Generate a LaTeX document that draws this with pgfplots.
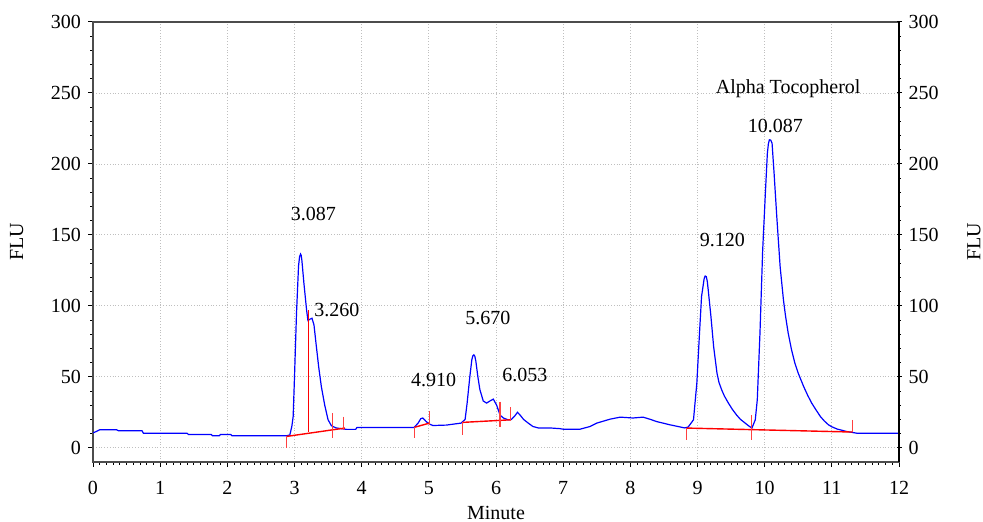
\documentclass[border=0pt]{standalone}
\usepackage{fontspec}
\setmainfont{Liberation Serif}
\usepackage{pgfplots}
\pgfplotsset{compat=1.18}
\definecolor{trace}{RGB}{0,0,255}
\definecolor{integ}{RGB}{255,0,0}
\begin{document}
\begin{tikzpicture}
\useasboundingbox (-46.5pt,-30pt) rectangle (445pt,231pt);
\pgfplotsset{
  chrom/.style={
    width=403pt, height=220pt, scale only axis,
    xmin=0, xmax=12, ymin=-10, ymax=300,
    xtick={0,1,...,12}, ytick={0,50,...,300},
    minor x tick num=9, minor y tick num=4,
    major tick length=2.5pt, minor tick length=1.5pt,
    tick style={black, line width=0.5pt},
    ticklabel style={font=\fontsize{10}{12}\selectfont},
    /pgf/number format/assume math mode=true,
    label style={font=\fontsize{10}{12}\selectfont},
  },
}
\begin{axis}[chrom,
    axis line style={black!70, line width=0.6pt},
    xtick pos=bottom, ytick pos=left, tick align=outside,
    xticklabel style={yshift=-3.5pt},
    grid=major, grid style={densely dotted, black!25, line width=0.4pt},
    xlabel={Minute}, ylabel={FLU},
    xlabel style={yshift=1pt},
    ylabel style={yshift=7pt},
]
% detector trace
\addplot[trace, line width=0.6pt] coordinates {
(0,10.5) (0.05,11.5) (0.1,12.7) (0.35,12.7) (0.38,12) (0.73,12) (0.75,10.3)
(1.4,10.3) (1.42,9.4) (1.76,9.4) (1.78,8.5) (1.88,8.5) (1.9,9.4) (2.05,9.4)
(2.07,8.5) (2.88,8.5) (2.93,9) (2.96,15) (2.98,22) (3.0,50) (3.03,95)
(3.06,128) (3.075,134.5) (3.09,136.5) (3.10,135.5) (3.11,132) (3.14,116)
(3.18,97) (3.20,89.7) (3.23,90.6) (3.26,91.3) (3.29,86.6) (3.32,73.7)
(3.36,57) (3.40,43) (3.45,30) (3.50,19.7) (3.55,15.5) (3.62,14) (3.77,13)
(3.91,13) (3.93,14.3) (4.78,14.3) (4.84,17.4) (4.88,20.5) (4.91,21)
(4.96,18.5) (5.01,16.7) (5.06,15.7) (5.26,16) (5.48,17.4) (5.54,20)
(5.57,31.5) (5.61,50) (5.64,62) (5.655,64.8) (5.67,65.5) (5.685,64.5)
(5.70,61) (5.73,50) (5.76,41) (5.81,33) (5.86,31.5) (5.91,33) (5.96,34.3)
(6.01,30) (6.06,23) (6.11,21) (6.18,19.7) (6.23,20) (6.28,22.5) (6.32,25)
(6.36,23) (6.41,20) (6.48,17.4) (6.55,15) (6.63,14) (6.8,14) (6.95,13.5)
(7.0,13.1) (7.25,13.1) (7.4,15) (7.5,17.4) (7.7,20.2) (7.85,21.6) (8.04,21)
(8.19,21.6) (8.3,20) (8.39,18.5) (8.59,16.2) (8.81,14) (8.86,14.6)
(8.94,19.7) (8.99,45.5) (9.03,81) (9.06,106.5) (9.10,119.5) (9.115,121)
(9.13,120.6) (9.145,117.5) (9.16,111) (9.20,92.5) (9.24,71.3) (9.29,52.6)
(9.32,46) (9.36,40.8) (9.40,36.5) (9.46,31.5) (9.52,27) (9.58,23.2)
(9.64,20) (9.71,17.4) (9.76,15.5) (9.81,13.9) (9.86,19.7) (9.89,33.8)
(9.93,80.8) (9.97,139) (10.01,179) (10.04,207.5) (10.055,214) (10.07,217)
(10.09,216.8) (10.11,214.6) (10.14,193.5) (10.18,163) (10.23,127.7)
(10.28,104) (10.31,93) (10.35,80.8) (10.40,69) (10.45,59.6) (10.50,52.5)
(10.58,43.2) (10.64,37) (10.70,31.5) (10.76,27) (10.83,22) (10.89,18.8)
(10.95,16.2) (11.0,14.8) (11.08,13.2) (11.22,11.5) (11.37,10.3) (12,10.3)
};
% integration baselines and marks
\addplot[integ, line width=0.7pt] coordinates {(2.88,8) (3.75,13.9)};
\addplot[integ, line width=0.7pt] coordinates {(3.21,10.8) (3.21,97)};
\addplot[integ!75, line width=0.6pt] coordinates {(2.88,8) (2.88,-0.2)};
\addplot[integ!75, line width=0.6pt] coordinates {(3.57,24.4) (3.57,6.8)};
\addplot[integ!75, line width=0.6pt] coordinates {(3.73,22) (3.73,12.7)};
\addplot[integ, line width=0.7pt] coordinates {(4.79,14.5) (5.01,17.4)};
\addplot[integ!75, line width=0.6pt] coordinates {(4.79,14.5) (4.79,6.8)};
\addplot[integ!75, line width=0.6pt] coordinates {(5.01,25.6) (5.01,16.2)};
\addplot[integ, line width=0.7pt] coordinates {(5.50,17.9) (6.21,19.7)};
\addplot[integ!75, line width=0.6pt] coordinates {(5.50,17.9) (5.50,9.2)};
\addplot[integ!75, line width=0.6pt] coordinates {(6.06,32.6) (6.06,15)};
\addplot[integ!75, line width=0.6pt] coordinates {(6.21,28.6) (6.21,19.2)};
\addplot[integ, line width=0.7pt] coordinates {(8.84,13.9) (11.31,11.1)};
\addplot[integ!75, line width=0.6pt] coordinates {(8.84,13.9) (8.84,5.6)};
\addplot[integ!75, line width=0.6pt] coordinates {(9.80,23.2) (9.80,5.6)};
\addplot[integ!75, line width=0.6pt] coordinates {(11.31,19.7) (11.31,11.1)};
% peak labels
\begin{scope}[every node/.style={font=\fontsize{10}{12}\selectfont, inner sep=0pt}]
\node at (axis cs:3.28,165) {3.087};
\node at (axis cs:3.63,97) {3.260};
\node at (axis cs:5.07,48) {4.910};
\node at (axis cs:5.88,91.5) {5.670};
\node at (axis cs:6.43,51) {6.053};
\node at (axis cs:9.37,146.5) {9.120};
\node at (axis cs:10.16,227) {10.087};
\node at (axis cs:10.35,253) {Alpha Tocopherol};
\end{scope}
\end{axis}
\begin{axis}[chrom,
    hide x axis,
    axis y line*=right, tick align=center,
    axis line style={black, line width=0.6pt},
    ylabel={FLU},
    ylabel style={yshift=-7.5pt},
]
\end{axis}
\end{tikzpicture}
\end{document}
